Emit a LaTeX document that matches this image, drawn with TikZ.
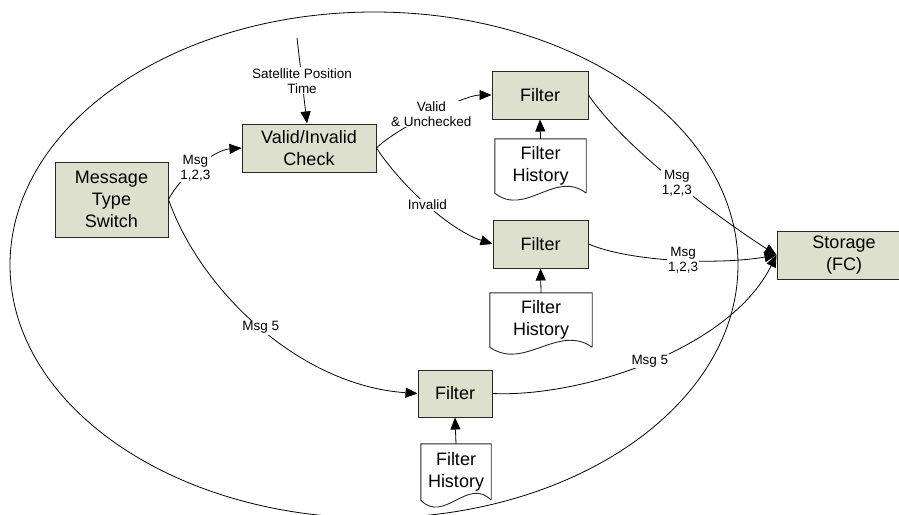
\documentclass[tikz,border=0pt]{standalone}
\usepackage{fontspec}
\setmainfont{Liberation Sans}
\usetikzlibrary{arrows.meta,calc}
\definecolor{boxfill}{RGB}{221,224,204}
\definecolor{boxline}{RGB}{40,40,40}
\begin{document}
\begin{tikzpicture}[x=1pt,y=-1pt,
  proc/.style={draw=boxline, line width=1pt, fill=boxfill, inner sep=0pt,
    align=center, font=\fontsize{18}{21.7}\selectfont},
  doc/.style={inner sep=0pt, align=center, font=\fontsize{18}{21.7}\selectfont},
  docline/.style={draw=boxline, line width=0.9pt},
  lbl/.style={fill=white, inner sep=1pt, align=center,
    font=\fontsize{13.5}{15}\selectfont},
  flow/.style={line width=0.8pt, -{Triangle[length=12pt,width=10pt]}},
  wire/.style={line width=0.8pt}]
\useasboundingbox (0,0) rectangle (899,514);
\clip (0,0) rectangle (899,514);

% system boundary
\draw[wire] (374,265) ellipse [x radius=364, y radius=253];

% processes
\node[proc, minimum width=113pt, minimum height=75pt] (sw) at (111.5,199.5) {Message\\Type\\Switch};
\node[proc, minimum width=134pt, minimum height=48pt] (chk) at (309,148) {Valid/Invalid\\Check};
\node[proc, minimum width=96pt, minimum height=48pt] (f1) at (540,95) {Filter};
\node[proc, minimum width=95pt, minimum height=48pt] (f2) at (540.5,244) {Filter};
\node[proc, minimum width=74pt, minimum height=47pt] (f3) at (455,393.5) {Filter};
\node[proc, minimum width=134pt, minimum height=48pt] (st) at (844,255) {Storage\\(FC)};

% filter histories (document shapes)
\node[doc, minimum width=91pt, minimum height=54pt] (h1) at (540.5,166) {Filter\\History};
\node[doc, minimum width=102pt, minimum height=54pt] (h2) at (541,320) {Filter\\History};
\node[doc, minimum width=70pt, minimum height=56pt] (h3) at (456,472) {Filter\\History};
\foreach \n in {h1,h2,h3}{
  \draw[docline] (\n.south east) -- (\n.north east) -- (\n.north west) -- (\n.south west)
    .. controls ($(\n.south west)!0.333!(\n.south east)+(0,24)$)
       and ($(\n.south west)!0.667!(\n.south east)+(0,-24)$) .. (\n.south east);
}

% inputs
\coordinate (sat) at (297,38);
\draw[flow] (sat) -- ([xshift=-2pt]chk.north)
  node[lbl, pos=0.5] {Satellite Position\\Time};

\draw[flow] (h1.north) -- (f1.south);
\draw[flow] (h2.north) -- (f2.south);
\draw[flow] (h3.north) -- (f3.south);

% message flows
\draw[flow] (sw.east) .. controls +(12,-24) and +(-27,2) .. (chk.west)
  node[lbl, pos=0.45] {Msg\\1,2,3};
\draw[flow] (chk.east) .. controls +(20,-20) and +(-27,0) .. (f1.west)
  node[lbl, pos=0.5] {Valid\\\& Unchecked};
\draw[flow] (chk.east) .. controls +(24,37) and +(-43,-14) .. (f2.west)
  node[lbl, pos=0.5] {Invalid};
\draw[flow] (sw.east) .. controls +(32,91) and +(-118,-8) .. (f3.west)
  node[lbl, pos=0.5] {Msg 5};
\draw[flow] (f1.east) .. controls +(37,55) and +(-52,-33) .. (st.west)
  node[lbl, pos=0.5] {Msg\\1,2,3};
\draw[flow] (f2.east) .. controls +(42,18) and +(-57,10) .. (st.west)
  node[lbl, pos=0.53] {Msg\\1,2,3};
\draw[flow] (f3.east) .. controls +(88,4) and +(-47,95) .. (st.west)
  node[lbl, pos=0.5] {Msg 5};
\end{tikzpicture}
\end{document}
